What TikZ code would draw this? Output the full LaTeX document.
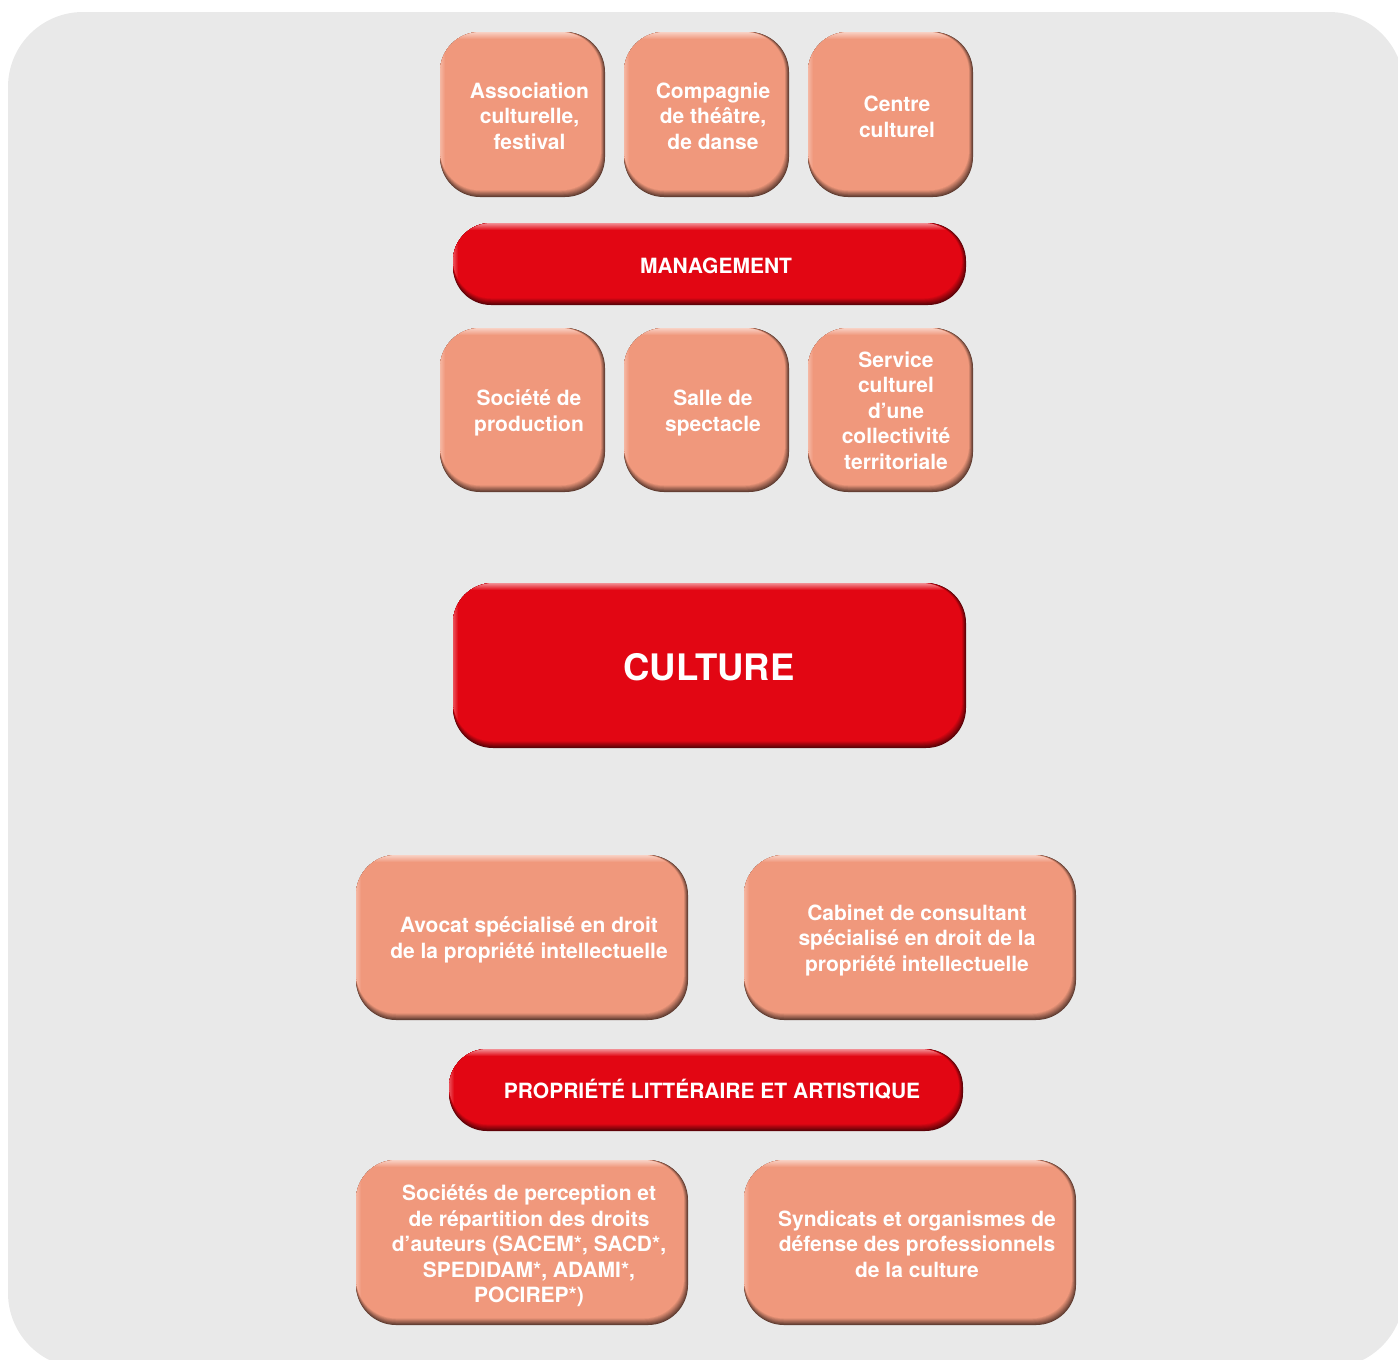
\documentclass[tikz,border=0pt]{standalone}
\usepackage{fontspec}
\setmainfont{TeX Gyre Heros}
\definecolor{bggray}{HTML}{E9E9E9}
\definecolor{salmon}{HTML}{F0987C}
\definecolor{crimson}{HTML}{E20613}

% Rounded box with a soft bevel: darker rim at bottom/right, light rim at top/left.
% #1 left, #2 top, #3 right, #4 bottom, #5 base colour, #6 corner radius
\newcommand\bevelbox[6]{%
  \colorlet{bbdark}{#5!40!black}%
  \foreach \i in {0,...,9}{%
    \pgfmathsetmacro\pc{\i/9*100}%
    \fill[#5!\pc!bbdark, rounded corners=#6pt] (#1,#2) rectangle ({#3-\i*0.45},{#4-\i*0.75});
  }%
  \begin{scope}
    \clip[rounded corners=#6pt] (#1,#2) rectangle ({#3-4},{#4-6.75});
    \shade[top color=#5!45!white, bottom color=#5] (#1,#2) rectangle (#3,{#2+7});
    \shade[left color=#5!70!white, right color=#5] (#1,#2) rectangle ({#1+5},#4);
  \end{scope}
}

\tikzset{
  lbl/.style={text=white, font=\bfseries\fontsize{21}{25.5}\selectfont, align=center, inner sep=0pt},
  biglbl/.style={text=white, font=\bfseries\fontsize{36.5}{40}\selectfont, align=center, inner sep=0pt}
}

\begin{document}
\begin{tikzpicture}[x=1pt, y=-1pt]
  \useasboundingbox (0,0) rectangle (1398,1360);
  \clip (0,0) rectangle (1398,1360);
  % panel
  \fill[bggray, rounded corners=75pt] (8,12) rectangle (1404,1368);

  % upper group
  \bevelbox{440}{32}{605}{197}{salmon}{40}
  \bevelbox{624}{32}{789}{197}{salmon}{40}
  \bevelbox{808}{32}{973}{197}{salmon}{40}
  \bevelbox{453}{223}{966}{305}{crimson}{38}
  \bevelbox{440}{328}{605}{492}{salmon}{40}
  \bevelbox{624}{328}{789}{492}{salmon}{40}
  \bevelbox{808}{328}{973}{492}{salmon}{40}

  % centre
  \bevelbox{453}{583}{966}{748}{crimson}{40}

  % lower group
  \bevelbox{356}{855}{688}{1020}{salmon}{40}
  \bevelbox{744}{855}{1076}{1020}{salmon}{40}
  \bevelbox{449}{1049}{963}{1131}{crimson}{38}
  \bevelbox{356}{1160}{688}{1325}{salmon}{40}
  \bevelbox{744}{1160}{1076}{1325}{salmon}{40}

  % labels
  \node[lbl] (asso) at (529.5,116) {Association\\culturelle,\\festival};
  \node[lbl] (comp) at (713,116) {Compagnie\\de théâtre,\\de danse};
  \node[lbl] (centre) at (897,117) {Centre\\culturel};
  \node[lbl] (mgmt) at (716,266) {MANAGEMENT};
  \node[lbl] (prod) at (529,413) {Société de\\production};
  \node[lbl] (salle) at (713,413) {Salle de\\spectacle};
  \node[lbl] (serv) at (896,410.5) {Service\\culturel\\d’une\\collectivité\\territoriale};
  \node[biglbl] (cult) at (709,667) {CULTURE};
  \node[lbl] (avocat) at (529,940) {Avocat spécialisé en droit\\de la propriété intellectuelle};
  \node[lbl] (cabinet) at (917,940) {Cabinet de consultant\\spécialisé en droit de la\\propriété intellectuelle};
  \node[lbl] (pla) at (712,1089.5) {PROPRIÉTÉ LITTÉRAIRE ET ARTISTIQUE};
  \node[lbl] (spre) at (529,1246) {Sociétés de perception et\\de répartition des droits\\d’auteurs (SACEM*, SACD*,\\SPEDIDAM*, ADAMI*,\\POCIREP*)};
  \node[lbl] (synd) at (917,1244) {Syndicats et organismes de\\défense des professionnels\\de la culture};
\end{tikzpicture}
\end{document}
